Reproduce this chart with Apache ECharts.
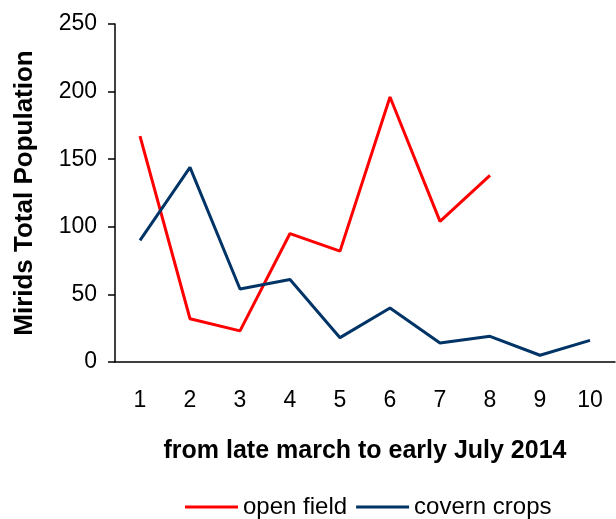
<!DOCTYPE html>
<html>
<head>
<meta charset="utf-8">
<script src="https://cdn.jsdelivr.net/npm/echarts@6/dist/echarts.min.js"></script>
<style>
  html, body { margin: 0; padding: 0; background: #fff; }
  #chart { width: 616px; height: 519px; }
</style>
</head>
<body>
<div id="chart"></div>
<script>
const categories = ['1', '2', '3', '4', '5', '6', '7', '8', '9', '10']
const openField = [167, 32, 23, 95, 82, 196, 104, 138, null, null]
const covernCrops = [90, 144, 54, 61, 18, 40, 14, 19, 5, 16]
const yTicks = [0, 50, 100, 150, 200, 250]

const font = '"Liberation Sans", Arial, sans-serif'
const chart = echarts.init(document.getElementById('chart'))

chart.setOption({
  animation: false,
  grid: {
    left: 115,
    right: 1,
    top: 24,
    bottom: 157
  },
  // 图例
  legend: {
    bottom: -5,
    left: 180,
    icon: 'rect',
    itemWidth: 53,
    itemHeight: 3,
    itemGap: 9,
    textStyle: { fontFamily: font, fontSize: 24, color: '#000' },
    data: ['open field', 'covern crops']
  },
  xAxis: {
    type: 'category',
    data: categories,
    boundaryGap: true,
    name: 'from late march to early July 2014',
    nameLocation: 'middle',
    nameGap: 77,
    nameTextStyle: { fontFamily: font, fontSize: 25, fontWeight: 'bold', color: '#000' },
    axisLine: { lineStyle: { color: '#000', width: 1.5 } },
    axisTick: { show: false },
    axisLabel: { fontFamily: font, fontSize: 23, color: '#000', margin: 27 }
  },
  yAxis: {
    type: 'value',
    min: yTicks[0],
    max: yTicks[yTicks.length - 1],
    interval: 50,
    name: 'Mirids Total Population',
    nameLocation: 'middle',
    nameGap: 77,
    nameTextStyle: { fontFamily: font, fontSize: 26, fontWeight: 'bold', color: '#000' },
    axisLine: { show: true, lineStyle: { color: '#000', width: 1.5 } },
    axisTick: { show: true, length: 7, lineStyle: { color: '#000', width: 1.5 } },
    axisLabel: { fontFamily: font, fontSize: 23, color: '#000', margin: 18 },
    splitLine: { show: false }
  },
  series: [{
    name: 'open field',
    type: 'line',
    data: openField,
    symbol: 'none',
    connectNulls: false,
    lineStyle: { color: '#ff0000', width: 3 },
    itemStyle: { color: '#ff0000' }
  }, {
    name: 'covern crops',
    type: 'line',
    data: covernCrops,
    symbol: 'none',
    lineStyle: { color: '#003366', width: 3 },
    itemStyle: { color: '#003366' }
  }]
})
</script>
</body>
</html>
